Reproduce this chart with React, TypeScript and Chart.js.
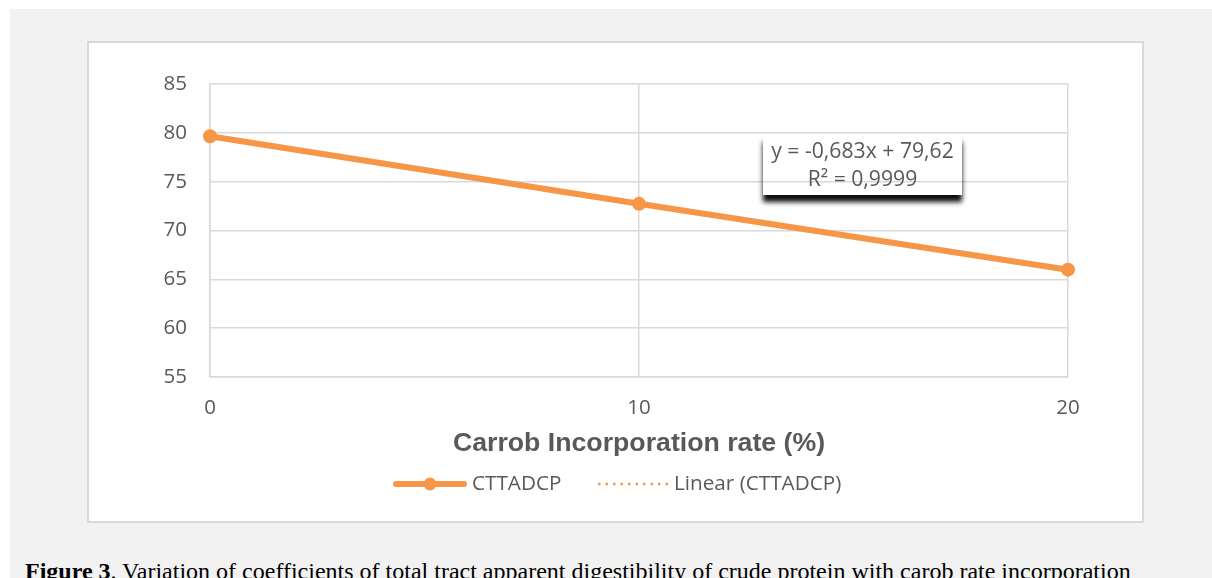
import React, { useEffect, useRef } from "react";
import { Chart, registerables } from "chart.js";

Chart.register(...registerables);

// ---- data ----
const xValues = [0, 10, 20];
const cttadcpValues = [79.65, 72.73, 65.99];
const trendXValues = [0, 20];
const trendYValues = [79.62, 65.96];
const yTickMin = 55;
const yTickMax = 85;
const yTickStep = 5;
const xTickMin = 0;
const xTickMax = 20;
const xTickStep = 10;
const seriesLabel = "CTTADCP";
const trendLabel = "Linear (CTTADCP)";
const xAxisTitle = "Carrob Incorporation rate (%)";
const equationText = "y = -0,683x + 79,62";
const r2Text = "R² = 0,9999";
const captionBold = "Figure 3";
const captionRest =
  ". Variation of coefficients of total tract apparent digestibility of crude protein with carob rate incorporation";

const ORANGE = "#f79646";
const TEXT = "#595959";
const GRID = "#d9d9d9";
const SANS = "'Open Sans', Lato, sans-serif";

const legendPlugin = {
  id: "customLegend",
  afterDraw(chart: any) {
    const ctx = chart.ctx as CanvasRenderingContext2D;
    const ds = chart.data.datasets;
    const y = 441;
    ctx.save();
    // series sample
    ctx.strokeStyle = ds[0].borderColor;
    ctx.lineWidth = 6;
    ctx.lineCap = "round";
    ctx.beginPath();
    ctx.moveTo(307, y);
    ctx.lineTo(375, y);
    ctx.stroke();
    ctx.fillStyle = ds[0].borderColor;
    ctx.beginPath();
    ctx.arc(341, y, 6.5, 0, Math.PI * 2);
    ctx.fill();
    ctx.font = `20.7px ${SANS}`;
    ctx.fillStyle = TEXT;
    ctx.textBaseline = "middle";
    ctx.textAlign = "left";
    ctx.fillText(ds[0].label, 383, y);
    // trend sample
    ctx.strokeStyle = ds[1].borderColor;
    ctx.lineWidth = 2.5;
    ctx.lineCap = "butt";
    ctx.setLineDash([2.5, 5]);
    ctx.beginPath();
    ctx.moveTo(509, y);
    ctx.lineTo(579, y);
    ctx.stroke();
    ctx.setLineDash([]);
    ctx.fillText(ds[1].label, 585, y);
    ctx.restore();
  },
};

export default function App() {
  const canvasRef = useRef<HTMLCanvasElement | null>(null);

  useEffect(() => {
    const canvas = canvasRef.current;
    if (!canvas) return;
    const chart = new Chart(canvas, {
      type: "line",
      data: {
        datasets: [
          {
            label: seriesLabel,
            data: xValues.map((x, i) => ({ x, y: cttadcpValues[i] })),
            borderColor: ORANGE,
            backgroundColor: ORANGE,
            borderWidth: 6,
            pointRadius: 7,
            pointHoverRadius: 7,
            pointBackgroundColor: ORANGE,
            pointBorderWidth: 0,
            tension: 0,
            clip: false,
            order: 1,
          },
          {
            label: trendLabel,
            data: trendXValues.map((x, i) => ({ x, y: trendYValues[i] })),
            borderColor: ORANGE,
            backgroundColor: ORANGE,
            borderWidth: 2,
            borderDash: [2, 4],
            pointRadius: 0,
            tension: 0,
            clip: false,
            order: 2,
          },
        ],
      },
      options: {
        animation: false,
        responsive: false,
        maintainAspectRatio: false,
        layout: { padding: { left: 0, top: 41, right: 73, bottom: 53 } },
        plugins: {
          legend: { display: false },
          tooltip: { enabled: false },
        },
        scales: {
          x: {
            type: "linear",
            min: xTickMin,
            max: xTickMax,
            ticks: {
              stepSize: xTickStep,
              padding: 19,
              color: TEXT,
              font: { family: SANS, size: 20.5 },
            },
            grid: { color: GRID, lineWidth: 1.5, drawTicks: false },
            border: { display: true, color: GRID, width: 1.5 },
            title: {
              display: true,
              text: xAxisTitle,
              color: TEXT,
              font: { family: "'Liberation Sans', Arial, sans-serif", size: 26.7, weight: "bold", lineHeight: 1 },
              padding: { top: 0, bottom: 10 },
            },
            afterFit(scale: any) {
              scale.height = 90;
            },
          },
          y: {
            type: "linear",
            min: yTickMin,
            max: yTickMax,
            ticks: {
              stepSize: yTickStep,
              padding: 23,
              color: TEXT,
              font: { family: SANS, size: 20.5 },
            },
            grid: { color: GRID, lineWidth: 1.5, drawTicks: false },
            border: { display: true, color: GRID, width: 1.5 },
            afterFit(scale: any) {
              scale.width = 121;
            },
          },
        },
      },
      plugins: [legendPlugin],
    } as any);
    return () => chart.destroy();
  }, []);

  return (
    <div
      style={{
        position: "fixed",
        left: 0,
        top: 0,
        width: 1212,
        height: 578,
        background: "#ffffff",
        overflow: "hidden",
      }}
    >
      <div
        style={{
          position: "absolute",
          left: 10,
          top: 9,
          width: 1202,
          height: 569,
          background: "#f2f2f2",
        }}
      />
      <div
        style={{
          position: "absolute",
          left: 87,
          top: 41,
          width: 1057,
          height: 482,
          background: "#ffffff",
          border: "2px solid #d9d9d9",
          boxSizing: "border-box",
        }}
      />
      <canvas
        ref={canvasRef}
        width={1052}
        height={477}
        style={{ position: "absolute", left: 89, top: 43, width: 1052, height: 477 }}
      />
      <div
        style={{
          position: "absolute",
          left: 763,
          top: 135,
          width: 199,
          height: 60,
          background: "transparent",
          boxShadow: "0 7px 5px 0 rgba(0,0,0,0.95)",
          fontFamily: SANS,
          fontSize: 21.2,
          color: TEXT,
          textAlign: "center",
          lineHeight: "28px",
          paddingTop: 1,
          boxSizing: "border-box",
          whiteSpace: "nowrap",
        }}
      >
        <div>{equationText}</div>
        <div>{r2Text}</div>
      </div>
      <div
        style={{
          position: "absolute",
          left: 25,
          top: 559,
          whiteSpace: "nowrap",
          fontFamily: "'Liberation Serif', 'Times New Roman', serif",
          fontSize: 24,
          lineHeight: "24px",
          color: "#000000",
        }}
      >
        <b>{captionBold}</b>
        {captionRest}
      </div>
    </div>
  );
}
